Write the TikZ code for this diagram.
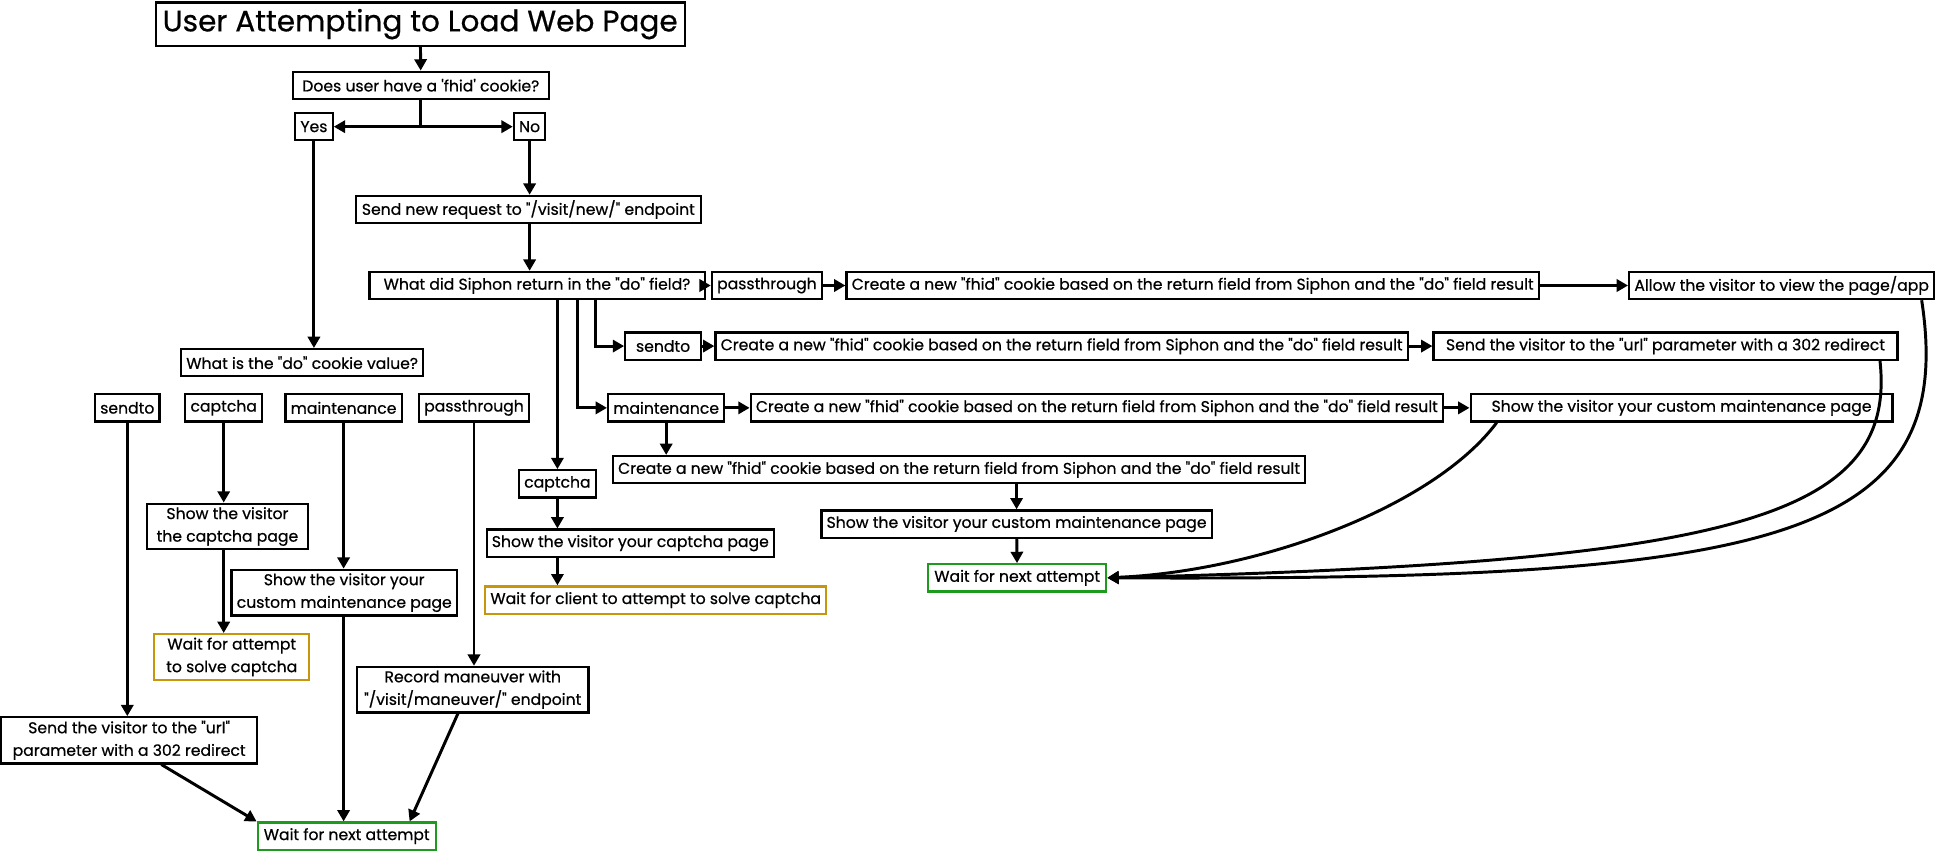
\documentclass[tikz,border=0pt]{standalone}
\usepackage{fontspec}
\setmainfont{Poppins}[Ligatures=TeXOff, FakeBold=0.6]
\usepackage{tikz}
\usetikzlibrary{arrows.meta}
\usetikzlibrary{positioning}
\definecolor{fl-gold}{HTML}{C8960A}
\definecolor{fl-green}{HTML}{1E9B1E}

\begin{document}
\begin{tikzpicture}[
    x=0.025cm, y=-0.025cm,
    font=\fontsize{9}{13}\selectfont,
    >={Triangle[length=6.5pt,width=7pt]}
  ]

  % Global style definitions
  \tikzset{
    box/.style={draw=black, line width=1.3pt, fill=white, minimum height=0.55cm, inner xsep=3pt, inner ysep=2pt, align=center},
    title/.style={box, font=\fontsize{17}{20}\selectfont, minimum height=0.875cm, inner xsep=4pt},
    cookie/.style={box, minimum width=14cm},
    wait/.style={box, draw=fl-gold},
    done/.style={box, draw=fl-green, minimum width=3.6cm},
    link/.style={line width=1.7pt, black},
    flow/.style={link, ->}
  }

  \useasboundingbox (0,0) rectangle (1568,689);

  % Entry and first check
  \node (title)   [title] at (340,19.5) {User Attempting to Load Web Page};
  \node (does)    [box, minimum width=5.18cm] at (340.5,69) {Does user have a 'fhid' cookie?};
  \node (yes)     [box] at (254,102.5) {Yes};
  \node (no)      [box] at (428.5,102.5) {No};

  % New visitor branch
  \node (sendnew) [box, minimum width=6.98cm] at (427.5,169.5) {Send new request to "/visit/new/" endpoint};
  \node (whatdo)  [box, minimum width=6.78cm] at (434.5,231) {What did Siphon return in the "do" field?};
  \node (passA)   [box, minimum width=2.18cm] at (620.5,231) {passthrough};
  \node (cookieA) [cookie] at (965,231) {Create a new "fhid" cookie based on the return field from Siphon and the "do" field result};
  \node (allow)   [box, minimum width=6.08cm] at (1441.5,231) {Allow the visitor to view the page/app};
  \node (sendA)   [box, minimum width=1.53cm] at (536.5,280) {sendto};
  \node (cookieB) [cookie] at (859,280) {Create a new "fhid" cookie based on the return field from Siphon and the "do" field result};
  \node (redirA)  [box, minimum width=9.38cm] at (1347.5,280) {Send the visitor to the "url" parameter with a 302 redirect};
  \node (maintA)  [box, minimum width=2.15cm] at (539,330) {maintenance};
  \node (cookieC) [cookie] at (887.5,330) {Create a new "fhid" cookie based on the return field from Siphon and the "do" field result};
  \node (pageA)   [box, minimum width=8.53cm] at (1360.5,330) {Show the visitor your custom maintenance page};
  \node (cookieD) [cookie] at (776,380) {Create a new "fhid" cookie based on the return field from Siphon and the "do" field result};
  \node (pageB)   [box, minimum width=7.78cm] at (822.5,424) {Show the visitor your custom maintenance page};
  \node (nextA)   [done] at (823,467.5) {Wait for next attempt};
  \node (capA)    [box, minimum width=1.45cm] at (451,391.5) {captcha};
  \node (capshowA) [box, minimum width=5.75cm] at (510,439.5) {Show the visitor your captcha page};
  \node (capwaitA) [wait, minimum width=6.78cm] at (530.5,485.5) {Wait for client to attempt to solve captcha};

  % Returning visitor branch
  \node (cookieval) [box, minimum width=4.43cm] at (244.5,293.5) {What is the "do" cookie value?};
  \node (sendB)   [box, minimum width=1.25cm] at (103,330) {sendto};
  \node (capB)    [box, minimum width=1.4cm] at (181,330) {captcha};
  \node (maintB)  [box, minimum width=2.25cm] at (278,330) {maintenance};
  \node (passB)   [box, minimum width=2.13cm] at (383.5,330) {passthrough};
  \node (capshowB) [box, minimum width=3.25cm] at (184,426) {Show the visitor\\the captcha page};
  \node (pageC)   [box, minimum width=4.43cm] at (278.5,479.5) {Show the visitor your\\custom maintenance page};
  \node (capwaitB) [wait, minimum width=3.13cm] at (187.5,531.5) {Wait for attempt\\to solve captcha};
  \node (record)  [box, minimum width=4.68cm] at (382.5,558) {Record maneuver with\\"/visit/maneuver/" endpoint};
  \node (redirB)  [box, minimum width=5.18cm] at (104.5,599) {Send the visitor to the "url"\\parameter with a 302 redirect};
  \node (nextB)   [done] at (280.5,676.5) {Wait for next attempt};

  % Top of the flow
  \coordinate (split) at (does.south |- yes.east);
  \draw[flow] (title) -- (does);
  \draw[link] (does) -- (split);
  \draw[flow] (split) -- (yes);
  \draw[flow] (split) -- (no);
  \draw[flow] (no) -- (no |- sendnew.north);
  \draw[flow] (no |- sendnew.south) -- (no |- whatdo.north);
  \draw[flow] (yes) -- (yes |- cookieval.north);

  % Fan out of the "do" field
  \coordinate (toSend)  at ([xshift=1.19cm]whatdo.south);
  \coordinate (toMaint) at ([xshift=0.81cm]whatdo.south);
  \draw[flow] (whatdo) -- (passA);
  \draw[flow] (passA) -- (cookieA);
  \draw[flow] (cookieA) -- (allow);
  \draw[flow] (toSend) |- (sendA);
  \draw[flow] (sendA) -- (cookieB);
  \draw[flow] (cookieB) -- (redirA);
  \draw[flow] (toMaint) |- (maintA);
  \draw[flow] (maintA) -- (cookieC);
  \draw[flow] (cookieC) -- (pageA);
  \draw[flow] (maintA) -- (maintA |- cookieD.north);
  \draw[flow] (pageB |- cookieD.south) -- (pageB);
  \draw[flow] (pageB) -- (nextA);
  \draw[flow] (whatdo.south -| capA) -- (capA);
  \draw[flow] (capA) -- (capA |- capshowA.north);
  \draw[flow] (capA |- capshowA.south) -- (capA |- capwaitA.north);

  % Sweeping returns into the wait box
  \draw[flow] ([xshift=0.55cm]pageA.south west) .. controls (1160,410) and (1020,462) .. (nextA.east);
  \draw[flow] ([xshift=-0.375cm]redirA.south east) .. controls (1535,420) and (1400,455) .. (nextA.east);
  \draw[flow] ([xshift=-0.275cm]allow.south east) .. controls (1585,440) and (1430,470) .. (nextA.east);

  % Returning visitor paths
  \draw[flow] (sendB) -- (sendB |- redirB.north);
  \draw[flow] (capB) -- (capB |- capshowB.north);
  \draw[flow] (capB |- capshowB.south) -- (capB |- capwaitB.north);
  \draw[flow] (maintB) -- (maintB |- pageC.north);
  \draw[flow] (maintB |- pageC.south) -- (maintB |- nextB.north);
  \draw[flow] (passB) -- (passB |- record.north);
  \draw[flow] ([xshift=0.65cm]redirB.south) -- (nextB.north west);
  \draw[flow] ([xshift=-0.3cm]record.south) -- ([xshift=-0.55cm]nextB.north east);

\end{tikzpicture}
\end{document}
